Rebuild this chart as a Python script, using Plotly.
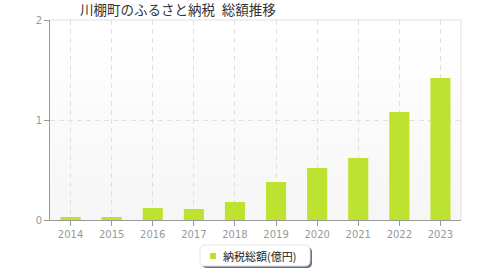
import plotly.graph_objects as go

years = ["2014", "2015", "2016", "2017", "2018", "2019", "2020", "2021", "2022", "2023"]
values = [0.03, 0.03, 0.12, 0.11, 0.18, 0.38, 0.52, 0.62, 1.08, 1.42]
series_name = "納税総額(億円)"
title = "川棚町のふるさと納税\u2002総額推移"
bar_color = "#bde22f"

fig = go.Figure()
fig.add_trace(go.Bar(
    x=years, y=values, name=series_name,
    marker=dict(color=bar_color, line=dict(width=0)),
    width=0.49, showlegend=False,
))

font = "Noto Sans CJK JP, DejaVu Sans, sans-serif"
tickfont = "DejaVu Sans, sans-serif"
fig.update_layout(
    width=480, height=280,
    margin=dict(l=50, r=19, t=20, b=60, autoexpand=False),
    paper_bgcolor="white",
    plot_bgcolor="#fafafa",
    font=dict(family=font, size=10, color="#999"),
    title=dict(text=title, x=80 / 480, xanchor="left", y=1 - 10 / 280, yanchor="middle",
               font=dict(size=13.5, color="#333", family=font)),
    showlegend=False,
    xaxis=dict(
        type="category", showline=True, linecolor="#999", linewidth=1,
        ticks="outside", ticklen=5, tickcolor="#999",
        showgrid=True, gridcolor="#e0e0e0", griddash="5px,4px", gridwidth=1,
        tickfont=dict(size=10, color="#999", family=tickfont),
    ),
    yaxis=dict(
        range=[0, 2], tickvals=[0, 1, 2], showline=True, linecolor="#999", linewidth=1,
        ticks="outside", ticklen=5, tickcolor="#999",
        showgrid=True, gridcolor="#e0e0e0", griddash="5px,4px", gridwidth=1,
        zeroline=False,
        tickfont=dict(size=10, color="#999", family=tickfont),
    ),
)
# subtle vertical gradient background
n = 20
for i in range(n):
    t = i / (n - 1)
    c = int(round(255 - t * 9))
    fig.add_shape(type="rect", xref="paper", yref="paper", layer="below",
                  x0=0, x1=1, y0=1 - (i + 1) / n, y1=1 - i / n,
                  fillcolor=f"rgb({c},{c},{c})", line=dict(width=0))
# right border and top line
fig.add_shape(type="line", xref="paper", yref="paper", x0=1, x1=1, y0=0, y1=1,
              line=dict(color="#e0e0e0", width=1))
fig.add_shape(type="line", xref="paper", yref="paper", x0=0, x1=1, y0=1, y1=1,
              line=dict(color="#e0e0e0", width=1))

# legend box with shadow (paper coordinates)
pw, ph = 411, 200
def px(x): return (x - 50) / pw
def py(y): return (220 - y) / ph
def rr(x0, y0, x1, y1, r):
    X0, X1, Y0, Y1 = px(x0), px(x1), py(y0), py(y1)
    rx, ry = r / pw, r / ph
    return (f"M{X0+rx},{Y0} L{X1-rx},{Y0} Q{X1},{Y0} {X1},{Y0-ry} L{X1},{Y1+ry} Q{X1},{Y1} {X1-rx},{Y1} "
            f"L{X0+rx},{Y1} Q{X0},{Y1} {X0},{Y1+ry} L{X0},{Y0-ry} Q{X0},{Y0} {X0+rx},{Y0} Z")
fig.add_shape(type="path", xref="paper", yref="paper",
              path=rr(202, 247, 312, 268, 5), fillcolor="#6a6e88", line=dict(width=0))
fig.add_shape(type="path", xref="paper", yref="paper",
              path=rr(200, 245, 310, 266, 5), fillcolor="white", line=dict(color="#e4e4e4", width=1))
fig.add_shape(type="rect", xref="paper", yref="paper",
              x0=px(210), x1=px(216), y0=py(259), y1=py(253),
              fillcolor=bar_color, line=dict(width=0))
fig.add_annotation(xref="paper", yref="paper", x=px(221), y=py(256), xanchor="left", yanchor="middle",
                   text=series_name, showarrow=False,
                   font=dict(size=11, color="#222", family=font))
fig.write_html("out.html")
